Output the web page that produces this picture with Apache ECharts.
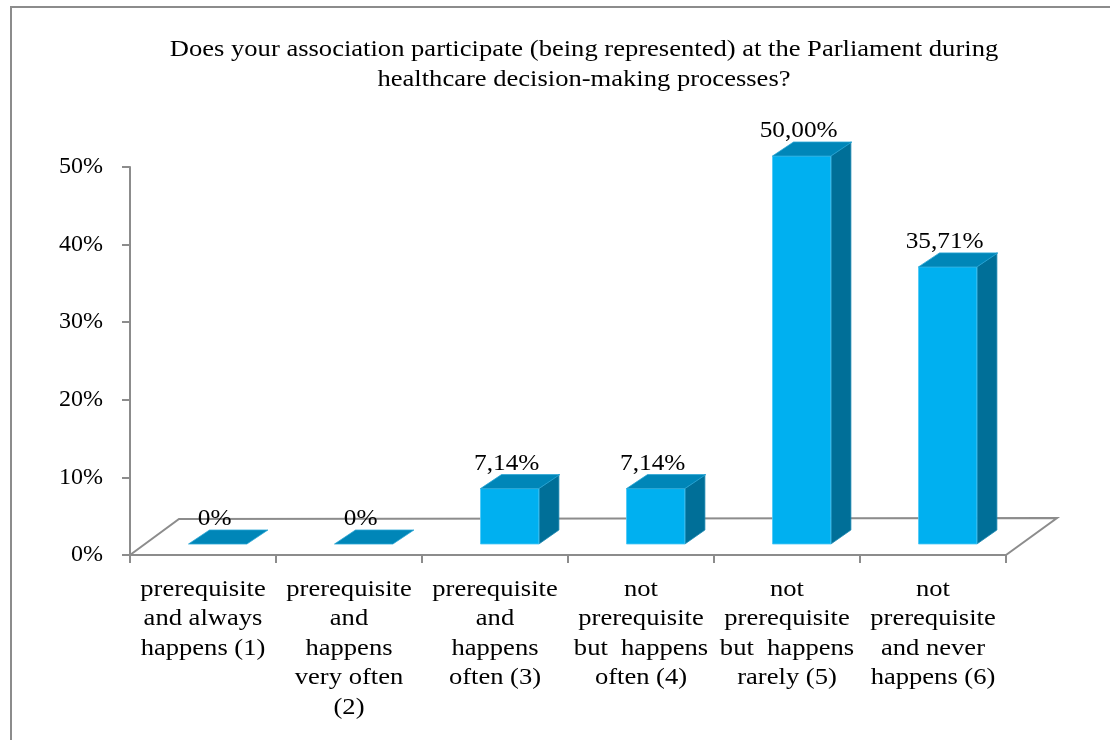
<!DOCTYPE html>
<html>
<head>
<meta charset="utf-8">
<script src="https://cdn.jsdelivr.net/npm/echarts@6/dist/echarts.min.js"></script>
<style>
  html, body { margin: 0; padding: 0; background: #ffffff; }
  #chart { width: 1110px; height: 740px; }
</style>
</head>
<body>
<div id="chart"></div>
<script>
// Survey answers and their shares (percent of respondents)
const categories = [
  'prerequisite\nand always\nhappens (1)',
  'prerequisite\nand\nhappens\nvery often\n(2)',
  'prerequisite\nand\nhappens\noften (3)',
  'not\nprerequisite\nbut  happens\noften (4)',
  'not\nprerequisite\nbut  happens\nrarely (5)',
  'not\nprerequisite\nand never\nhappens (6)'
];
const shares = [0, 0, 7.14, 7.14, 50.00, 35.71];
const yTicks = [0, 10, 20, 30, 40, 50];
const titleLines = [
  'Does your association participate (being represented) at the Parliament during',
  'healthcare decision-making processes?'
];

const FAMILY = 'Liberation Serif';
const GRAY = '#8c8c8c';
const WIDE = 1.155;              // the serif text is set slightly wide

// pseudo-3D geometry (pixels)
const FLOOR_DEPTH = [49, -36];   // back edge of the floor relative to the front edge
const BAR_SHIFT = [14.7, -11];   // bar front face sits inside the floor
const BAR_DEPTH = [20, -14];     // thickness of each bar
const COL_FRONT = '#00B0F0';
const COL_TOP = '#0086B8';
const COL_SIDE = '#006F98';

function fmtShare(v) {
  return v === 0 ? '0%' : v.toFixed(2).replace('.', ',') + '%';
}

const chart = echarts.init(document.getElementById('chart'));

const option = {
  animation: false,
  backgroundColor: '#ffffff',
  graphic: [
    {
      type: 'rect',
      shape: { x: 11, y: 7, width: 1200, height: 800 },
      style: { fill: 'none', stroke: GRAY, lineWidth: 2 },
      silent: true
    },
    {
      type: 'text',
      x: 584,
      y: 35,
      scaleX: WIDE,
      silent: true,
      style: {
        text: titleLines.join('\n'),
        textAlign: 'center',
        textVerticalAlign: 'top',
        fontFamily: FAMILY,
        fontSize: 23,
        lineHeight: 30,
        fill: '#000'
      }
    }
  ],
  grid: { left: 130, right: 104, top: 167, bottom: 185 },
  xAxis: {
    type: 'category',
    data: categories,
    axisLine: { show: true, lineStyle: { color: GRAY, width: 2 } },
    axisTick: { show: true, length: 8, lineStyle: { color: GRAY, width: 2 } },
    axisLabel: { show: false }
  },
  yAxis: {
    type: 'value',
    min: yTicks[0],
    max: yTicks[yTicks.length - 1],
    interval: yTicks[1] - yTicks[0],
    splitLine: { show: false },
    axisLine: { show: true, lineStyle: { color: GRAY, width: 2 } },
    axisTick: { show: true, length: 8, lineStyle: { color: GRAY, width: 2 } },
    axisLabel: {
      margin: 27, color: '#000', fontFamily: FAMILY, fontSize: 24,
      formatter: '{value}%'
    }
  },
  series: [
    {
      // floor outline behind the bars
      type: 'custom',
      z: 1,
      silent: true,
      data: [[0, 0]],
      renderItem: function (params, api) {
        const w = api.size([1, 0])[0];
        const p0 = api.coord([0, 0]);
        const pN = api.coord([categories.length - 1, 0]);
        const l = p0[0] - w / 2, r = pN[0] + w / 2, y = p0[1];
        return {
          type: 'polyline',
          shape: { points: [
            [l, y],
            [l + FLOOR_DEPTH[0], y + FLOOR_DEPTH[1]],
            [r + FLOOR_DEPTH[0] + 2, y + FLOOR_DEPTH[1] - 1],
            [r, y]
          ] },
          style: { stroke: GRAY, lineWidth: 2, fill: 'none' }
        };
      }
    },
    {
      // category names under the axis, set wide
      type: 'custom',
      z: 4,
      silent: true,
      data: categories.map(function (c, i) { return [i, 0]; }),
      renderItem: function (params, api) {
        const i = api.value(0);
        const p = api.coord([i, 0]);
        return {
          type: 'text',
          x: p[0],
          y: p[1] + 20,
          scaleX: WIDE,
          style: {
            x: 0, y: 0,
            text: categories[i],
            textAlign: 'center',
            textVerticalAlign: 'top',
            fontFamily: FAMILY,
            fontSize: 23,
            lineHeight: 29.5,
            fill: '#000'
          }
        };
      }
    },
    {
      type: 'custom',
      z: 3,
      data: shares.map(function (v, i) { return [i, v]; }),
      renderItem: function (params, api) {
        const i = api.value(0), v = api.value(1);
        const base = api.coord([i, 0]);
        const top = api.coord([i, v]);
        const bw = api.size([1, 0])[0] * 0.4;
        const x0 = base[0] - bw / 2 + BAR_SHIFT[0], x1 = x0 + bw;
        const yb = base[1] + BAR_SHIFT[1], yt = top[1] + BAR_SHIFT[1];
        const dx = BAR_DEPTH[0], dy = BAR_DEPTH[1];
        const children = [];
        if (yb - yt > 0.5) {
          children.push({
            type: 'polygon',
            shape: { points: [[x1, yt], [x1 + dx, yt + dy], [x1 + dx, yb + dy], [x1, yb]] },
            style: { fill: COL_SIDE, stroke: '#1A86B0', lineWidth: 0.8 }
          });
          children.push({
            type: 'rect',
            shape: { x: x0, y: yt, width: bw, height: yb - yt },
            style: { fill: COL_FRONT, stroke: '#4CC8F5', lineWidth: 0.8 }
          });
        }
        children.push({
          type: 'polygon',
          shape: { points: [[x0, yt], [x1, yt], [x1 + dx + 1, yt + dy], [x0 + dx + 1, yt + dy]] },
          style: { fill: COL_TOP, stroke: '#2AA6D6', lineWidth: 0.8 }
        });
        children.push({
          type: 'text',
          z2: 10,
          x: (x0 + x1) / 2 - 3,
          y: yt - 25,
          scaleX: 1.1,
          style: {
            x: 0, y: 0,
            text: fmtShare(v),
            textAlign: 'center',
            textVerticalAlign: 'middle',
            fontFamily: FAMILY,
            fontSize: 23,
            fill: '#000'
          }
        });
        return { type: 'group', children: children };
      }
    }
  ]
};

chart.setOption(option);
</script>
</body>
</html>
